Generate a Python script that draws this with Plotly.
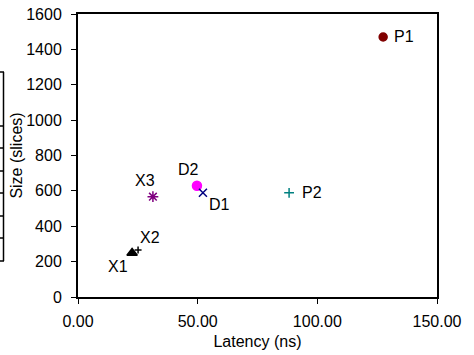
import plotly.graph_objects as go

names = ["P1", "P2", "D2", "D1", "X3", "X2", "X1"]
latency = [127.5, 88.2, 49.7, 52.2, 31.3, 25.1, 22.6]
size = [1470, 589, 629, 589, 567, 266, 249]
symbols = ["circle", "cross-thin", "circle", "x-thin", "asterisk-open", "cross-thin", "triangle-up"]
colors = ["#800000", "#008080", "#FF00FF", "#000080", "#800080", "#000000", "#000000"]
msizes = [8, 7, 9, 8, 9, 5, 9]
# label offsets in pixels (x, y-up)
lab_dx = [9, 11, -8, 17, -8, 12, -14]
lab_dy = [0, 0, 16, -12, 16, 12, -14]
lab_anchor = ["left", "left", "center", "center", "center", "center", "center"]

x_ticks = [0, 50, 100, 150]
y_ticks = [0, 200, 400, 600, 800, 1000, 1200, 1400, 1600]

fig = go.Figure()
for i, n in enumerate(names):
    fig.add_trace(go.Scatter(
        x=[latency[i]], y=[size[i]], mode="markers", name=n,
        marker=dict(symbol=symbols[i], color=colors[i], size=msizes[i],
                    line=dict(color=colors[i], width=1.5)),
        showlegend=False, cliponaxis=False))
    fig.add_annotation(x=latency[i], y=size[i], text=n, showarrow=False,
                       xanchor=lab_anchor[i], yanchor="middle",
                       xshift=lab_dx[i], yshift=lab_dy[i],
                       font=dict(size=16, color="black"))

# cropped box stub on the far left of the picture
stub_y = [72, 126, 148, 171, 193, 216, 238, 261]
W0, PW, T0, PH = 78, 359, 14, 283
def px(x):
    return (x - W0) / PW
def py(y):
    return 1 - (y - T0) / PH
fig.add_shape(type="line", xref="paper", yref="paper", x0=px(3.5), x1=px(3.5),
              y0=py(stub_y[0]), y1=py(stub_y[-1]), line=dict(color="black", width=1.5))
for yy in stub_y:
    fig.add_shape(type="line", xref="paper", yref="paper", x0=px(0), x1=px(4),
                  y0=py(yy), y1=py(yy), line=dict(color="black", width=1.5))

fig.update_layout(
    width=474, height=355,
    margin=dict(l=78, r=37, t=14, b=58),
    paper_bgcolor="white", plot_bgcolor="white",
    hovermode=False,
    font=dict(family="Liberation Sans, Arial, Helvetica, sans-serif", size=16, color="black"),
)
fig.update_xaxes(range=[0, 150], tickvals=x_ticks, tickformat=".2f", automargin=False,
                 ticks="outside", ticklen=5, tickwidth=1, tickcolor="black",
                 ticklabelstandoff=4,
                 showline=True, linecolor="black", linewidth=2, mirror=True,
                 showgrid=False, zeroline=False,
                 title=dict(text="Latency (ns)", font=dict(size=16), standoff=7))
fig.update_yaxes(range=[0, 1600], tickvals=y_ticks, automargin=False,
                 ticks="outside", ticklen=5, tickwidth=1, tickcolor="black",
                 ticklabelstandoff=6,
                 showline=True, linecolor="black", linewidth=2, mirror=True,
                 showgrid=False, zeroline=False,
                 title=dict(text="Size (slices)", font=dict(size=16), standoff=0))

fig.write_html("out.html", config={"displayModeBar": False, "staticPlot": True},
               post_script="document.body.style.margin='0';")
